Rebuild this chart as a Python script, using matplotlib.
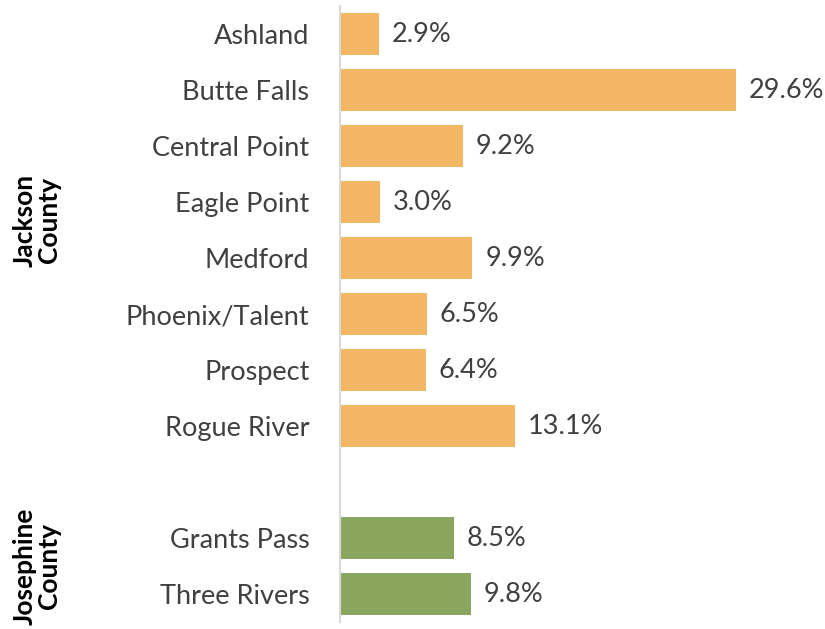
import matplotlib.pyplot as plt

# share of residents by community, grouped by county
jackson_places = ["Ashland", "Butte Falls", "Central Point", "Eagle Point", "Medford",
                  "Phoenix/Talent", "Prospect", "Rogue River"]
jackson_pct = [2.9, 29.6, 9.2, 3.0, 9.9, 6.5, 6.4, 13.1]
josephine_places = ["Grants Pass", "Three Rivers"]
josephine_pct = [8.5, 9.8]

ORANGE = "#F3B664"
GREEN = "#8AA65E"
TEXT = "#404040"

plt.rcParams['font.family'] = ['Lato', 'DejaVu Sans']

fig = plt.figure(figsize=(8.25, 6.29), dpi=100)
ax = fig.add_axes([340 / 825, 7 / 629, 485 / 825, 616 / 629])

# one empty slot between the two counties
labels = jackson_places + [""] + josephine_places
values = jackson_pct + [None] + josephine_pct
colors = [ORANGE] * len(jackson_places) + [None] + [GREEN] * len(josephine_places)

for i, (v, c) in enumerate(zip(values, colors)):
    if v is None:
        continue
    ax.barh(i, v, height=0.75, color=c)
    ax.text(v + 0.95, i, f"{v:.1f}%", va="center", ha="left", fontsize=19.5, color=TEXT)

ax.set_yticks(range(len(labels)))
ax.set_yticklabels(labels, fontsize=19.5, color=TEXT)
ax.tick_params(axis="y", length=0, pad=22)
ax.set_ylim(len(labels) - 0.5, -0.5)
ax.set_xlim(0, 36.25)
ax.set_xticks([])

for side in ["top", "right", "bottom"]:
    ax.spines[side].set_visible(False)
ax.spines["left"].set_color("#D9D9D9")
ax.spines["left"].set_linewidth(1.5)

fig.text(37 / 825, 1 - 220 / 629, "Jackson\nCounty", rotation=90, ha="center", va="center",
         fontsize=19, fontweight="bold", color="black", linespacing=1.05)
fig.text(37 / 825, 1 - 566 / 629, "Josephine\nCounty", rotation=90, ha="center", va="center",
         fontsize=19, fontweight="bold", color="black", linespacing=1.05)

fig.savefig("out.png", dpi=100)
